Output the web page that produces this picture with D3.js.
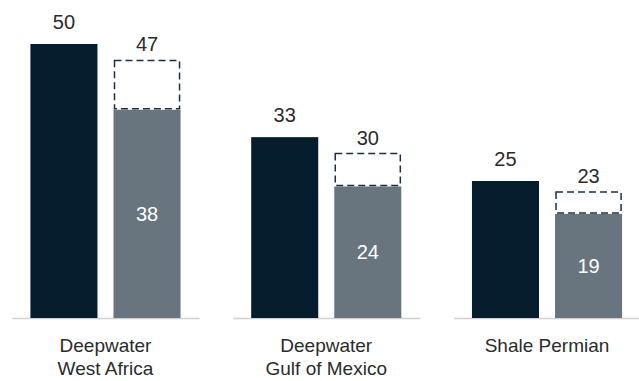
<!DOCTYPE html>
<html>
<head>
<meta charset="utf-8">
<script src="https://cdn.jsdelivr.net/npm/d3@7"></script>
<style>
  html, body { margin: 0; padding: 0; background: #fff; }
  svg { display: block; }
  text { font-family: "Liberation Sans", Arial, sans-serif; }
</style>
</head>
<body>
<svg id="chart" width="639" height="381"></svg>
<script>
const categories = [["Deepwater", "West Africa"], ["Deepwater", "Gulf of Mexico"], ["Shale Permian"]];
const darkValues = [50, 33, 25];
const greyValues = [38, 24, 19];
const totalValues = [47, 30, 23];

const svg = d3.select("#chart");
const keys = categories.map(c => c.join(" "));

const x = d3.scaleBand().domain(keys).range([-4.9, 657.4]).paddingInner(0.32).paddingOuter(0.16);
const xi = d3.scaleBand().domain(["dark", "grey"]).range([0, x.bandwidth()]).paddingInner(0.193);
const y = d3.scaleLinear().domain([0, 50]).range([318, 44]);

const data = keys.map((k, i) => ({ key: k, lines: categories[i], dark: darkValues[i], grey: greyValues[i], total: totalValues[i] }));

svg.selectAll("line.base").data(data).join("line")
  .attr("class", "base")
  .attr("x1", d => x(d.key) - 18)
  .attr("x2", d => x(d.key) + x.bandwidth() + 19)
  .attr("y1", y(0) + 0.5).attr("y2", y(0) + 0.5)
  .attr("stroke", "#d0d0d0").attr("stroke-width", 1.5);

const g = svg.selectAll("g.grp").data(data).join("g")
  .attr("class", "grp")
  .attr("transform", d => `translate(${x(d.key)},0)`);

g.append("rect")
  .attr("x", xi("dark")).attr("width", xi.bandwidth())
  .attr("y", d => y(d.dark)).attr("height", d => y(0) - y(d.dark))
  .attr("fill", "#061d2d");

g.append("rect")
  .attr("x", xi("grey")).attr("width", xi.bandwidth())
  .attr("y", d => y(d.grey)).attr("height", d => y(0) - y(d.grey))
  .attr("fill", "#68757e");

g.append("rect")
  .attr("x", xi("grey") + 1).attr("width", xi.bandwidth() - 2)
  .attr("y", d => y(d.total)).attr("height", d => y(d.grey) - y(d.total) - 1)
  .attr("fill", "none")
  .attr("stroke", "#1c2f3d").attr("stroke-width", 1.5)
  .attr("stroke-dasharray", "7,4");

g.append("text")
  .attr("x", xi("dark") + xi.bandwidth() / 2)
  .attr("y", d => y(d.dark) - 15)
  .attr("text-anchor", "middle").attr("font-size", 20).attr("fill", "#2b2b2b")
  .text(d => d.dark);

g.append("text")
  .attr("x", xi("grey") + xi.bandwidth() / 2)
  .attr("y", d => y(d.total) - 9)
  .attr("text-anchor", "middle").attr("font-size", 20).attr("fill", "#2b2b2b")
  .text(d => d.total);

g.append("text")
  .attr("x", xi("grey") + xi.bandwidth() / 2)
  .attr("y", d => (y(d.grey) + y(0)) / 2)
  .attr("dy", "0.36em")
  .attr("text-anchor", "middle").attr("font-size", 20).attr("fill", "#fff")
  .text(d => d.grey);

g.each(function(d) {
  const t = d3.select(this).append("text")
    .attr("text-anchor", "middle").attr("font-size", 19).attr("fill", "#2b2b2b");
  d.lines.forEach((ln, j) => {
    t.append("tspan").attr("x", x.bandwidth() / 2).attr("y", 352 + j * 22.5).text(ln);
  });
});
</script>
</body>
</html>
